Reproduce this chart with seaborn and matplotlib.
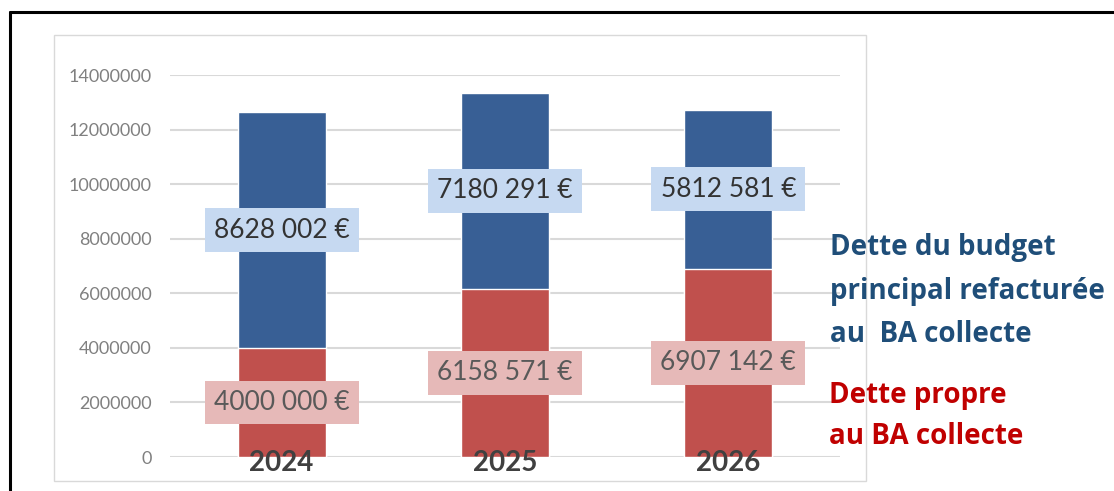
import pandas as pd
import matplotlib.pyplot as plt
import seaborn as sns
from matplotlib.lines import Line2D
from matplotlib.patches import Rectangle

# data
years = ['2024', '2025', '2026']
dette_propre = [4000000, 6158571, 6907142]
dette_refacturee = [8628002, 7180291, 5812581]
yticks = [0, 2000000, 4000000, 6000000, 8000000, 10000000, 12000000, 14000000]

df = pd.DataFrame({'year': years, 'propre': dette_propre, 'refacturee': dette_refacturee})
df['total'] = df['propre'] + df['refacturee']

sns.set_theme(style='white')
plt.rcParams['font.family'] = ['Lato', 'DejaVu Sans']


def euro(v):
    # the chart only splits off the last three digits: "8628 002 €"
    return f"{v // 1000} {v % 1000:03d} €"


W, H = 1114, 491
fig = plt.figure(figsize=(W / 100, H / 100), dpi=100)

# black frame (left + top) and the light grey chart-area box
fig.add_artist(Line2D([10 / W, 10 / W], [0, 1 - 12 / H], color='black', lw=2.2, transform=fig.transFigure))
fig.add_artist(Line2D([10 / W, 1], [1 - 12 / H, 1 - 12 / H], color='black', lw=2.2, transform=fig.transFigure))
fig.add_artist(Rectangle((54 / W, 1 - 481 / H), (866 - 54) / W, (481 - 35) / H,
                         transform=fig.transFigure, fill=False, edgecolor='#d9d9d9', lw=1))

ax = fig.add_axes([170 / W, 1 - 457 / H, 670 / W, (457 - 75) / H])

blue = '#385f95'
red = '#c0504d'
sns.barplot(data=df, x='year', y='total', color=blue, width=0.394, saturation=1, ax=ax)
sns.barplot(data=df, x='year', y='propre', color=red, width=0.394, saturation=1, ax=ax)

ax.set_ylim(0, 14000000)
ax.set_xlim(-0.5, 2.5)
ax.set_yticks(yticks)
ax.set_yticklabels([str(v) for v in yticks])
ax.tick_params(axis='y', colors='#808080', labelsize=13, length=0, pad=13)
ax.set_xticks([])
ax.set_xlabel('')
ax.set_ylabel('')
ax.yaxis.grid(True, color='#d9d9d9', lw=1.5)
ax.set_axisbelow(True)
for s in ax.spines.values():
    s.set_visible(False)

# value labels at the middle of each segment
for i, row in df.iterrows():
    ax.text(i, row['propre'] + row['refacturee'] / 2, euro(row['refacturee']), ha='center', va='center',
            fontsize=19, color='#333333', zorder=5,
            bbox=dict(boxstyle='square,pad=0.35', fc='#c6d9f1', ec='none'))
    ax.text(i, row['propre'] / 2, euro(row['propre']), ha='center', va='center',
            fontsize=19, color='#595959', zorder=5,
            bbox=dict(boxstyle='square,pad=0.35', fc='#e6b9b8', ec='none'))
    # year labels sit over the bottom of the bars
    ax.text(i, -0.015, row['year'], ha='center', va='center', fontsize=20, fontweight='bold',
            color='#404040', zorder=6, transform=ax.get_xaxis_transform())

# legend written as coloured text on the right
fig.text(830 / W, 1 - 291 / H, 'Dette du budget\nprincipal refacturée\nau  BA collecte',
         ha='left', va='center', fontsize=20, fontweight='bold', color='#1f4e79', linespacing=1.64,
         family=['Open Sans', 'DejaVu Sans'])
fig.text(829 / W, 1 - 416 / H, 'Dette propre\nau BA collecte',
         ha='left', va='center', fontsize=20, fontweight='bold', color='#c00000', linespacing=1.58,
         family=['Open Sans', 'DejaVu Sans'])

fig.savefig('out.png', dpi=100)
